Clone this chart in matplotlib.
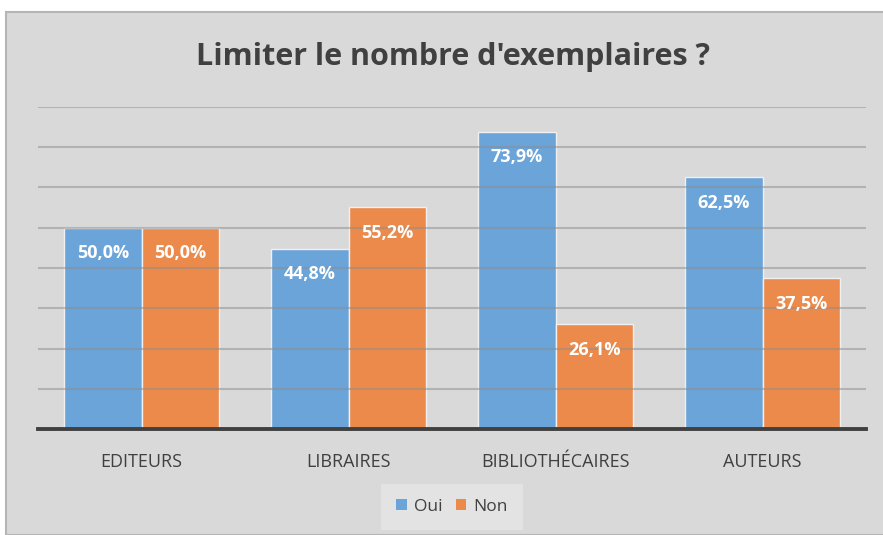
import matplotlib
matplotlib.use("Agg")
import matplotlib.pyplot as plt
from matplotlib.patches import Rectangle
import numpy as np

categories = ["EDITEURS", "LIBRAIRES", "BIBLIOTHÉCAIRES", "AUTEURS"]
oui = [50.0, 44.8, 73.9, 62.5]
non = [50.0, 55.2, 26.1, 37.5]
series_names = ["Oui", "Non"]
title = "Limiter le nombre d'exemplaires ?"

W, H = 883, 535
fig = plt.figure(figsize=(W / 100, H / 100), dpi=100)
fig.patch.set_facecolor("white")

bg = "#d9d9d9"
fig.patches.append(Rectangle((6 / W, 0), 1 - 6 / W + 0.01, 1 - 12 / H, transform=fig.transFigure,
                             facecolor=bg, edgecolor="#b5b5b5", linewidth=1.5, zorder=-5))

ax = fig.add_axes([38 / W, 1 - 429 / H, (866 - 38) / W, (429 - 107) / H])
ax.set_facecolor("none")
ax.set_zorder(1)

x = np.arange(len(categories))
w = 0.375
blue = "#6ba4d8"
orange = "#eb8a4b"
b1 = ax.bar(x - w / 2, oui, w, color=blue, edgecolor="#f0f0f0", linewidth=1, zorder=2, label=series_names[0])
b2 = ax.bar(x + w / 2, non, w, color=orange, edgecolor="#f0f0f0", linewidth=1, zorder=2, label=series_names[1])

ax.set_xlim(-0.5, len(categories) - 0.5)
ax.set_ylim(0, 80)
ax.set_yticks(np.arange(10, 81, 10))
for yv in np.arange(10, 81, 10):
    ax.axhline(yv, color="#8c8c8c", alpha=0.5, linewidth=1.5, zorder=3)
ax.axhline(0, color="#404040", linewidth=2.8, zorder=4, clip_on=False)

for s in ax.spines.values():
    s.set_visible(False)
ax.tick_params(left=False, bottom=False, labelleft=False)
ax.set_xticks(x)
ax.set_xticklabels(categories, fontsize=13, color="#404040", family="Open Sans")
ax.tick_params(axis="x", pad=14)

for bars, vals in ((b1, oui), (b2, non)):
    for r, v in zip(bars, vals):
        ax.annotate(f"{v:.1f}%".replace(".", ","), (r.get_x() + r.get_width() / 2, v),
                    xytext=(0, -18.5), textcoords="offset points", ha="center", va="center",
                    color="white", fontsize=13, fontweight="bold", family="Open Sans", zorder=5)

fig.text(453 / W, 1 - 57 / H, title, ha="center", va="center", fontsize=22,
         fontweight="bold", color="#404040", family="Open Sans")

leg = fig.legend(loc="center", bbox_to_anchor=(452 / W, 1 - 507 / H), ncol=2, frameon=True,
                 handlelength=0.6, handleheight=0.6, handletextpad=0.4,
                 columnspacing=0.8, prop={"family": "Open Sans", "size": 12.5})
leg.get_frame().set_facecolor("#e6e6e6")
leg.get_frame().set_edgecolor("none")
leg.get_frame().set_boxstyle("square", pad=0.45)
for t in leg.get_texts():
    t.set_color("#404040")
for h in leg.legend_handles:
    h.set_edgecolor("none")

fig.savefig("out.png", dpi=100, facecolor=fig.get_facecolor())
